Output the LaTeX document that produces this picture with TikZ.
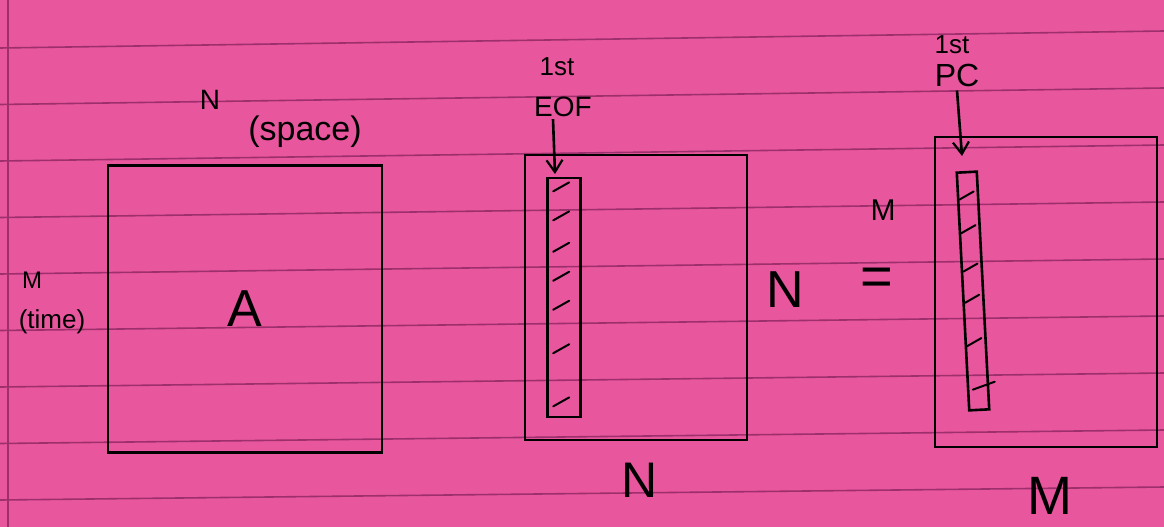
\documentclass[tikz,border=0pt]{standalone}
\usepackage{fontspec}
\setmainfont{Liberation Sans}
\usetikzlibrary{arrows.meta,calc}
\definecolor{paper}{HTML}{E8579E}
\definecolor{ruling}{HTML}{9C2F6C}
\begin{document}
\begin{tikzpicture}[x=1pt,y=-1pt,
  ink/.style={draw=black, line width=2.6pt},
  box/.style={ink, rectangle, inner sep=0pt},
  lbl/.style={inner sep=0pt, text=black},
  hatch/.style={draw=black, line width=2pt, line cap=round},
  arr/.style={ink, -{Straight Barb[length=12pt,width=16pt,line width=2.2pt]}}]
\fill[paper] (0,0) rectangle (1164,527);
\useasboundingbox (0,0) rectangle (1164,527);
\foreach \i in {0,...,8}
  \draw[ruling, line width=1.6pt] (0,{48+56.5*\i}) -- (1164,{31+57*\i});
\draw[ruling, line width=1.6pt] (8,0) -- (8,527);

% left matrix A
\node[box, minimum width=274pt, minimum height=287pt, font=\fontsize{52}{52}\selectfont] (A) at (245,309) {A};
\node[lbl, font=\fontsize{28}{28}\selectfont] (Ntop) at (210,100) {N};
\node[lbl, font=\fontsize{34}{34}\selectfont] (space) at (305,132) {(space)};
\node[lbl, font=\fontsize{24}{24}\selectfont] (Mleft) at (32,280) {M};
\node[lbl, font=\fontsize{26}{26}\selectfont] (time) at (52,322) {(time)};

% middle matrix (EOFs)
\node[box, minimum width=222pt, minimum height=285pt] (E) at (636,297.5) {};
\node[box, minimum width=33pt, minimum height=239pt] (s1) at (564,297.5) {};
\foreach \f in {0.04,0.16,0.29,0.41,0.53,0.71,0.93}
  \draw[hatch] ($(s1.north west)!\f!(s1.south west)+(7,5)$) -- ++(16,-9);
\node[lbl, font=\fontsize{26}{26}\selectfont] (first1) at (557,67) {1st};
\node[lbl, font=\fontsize{28}{28}\selectfont] (eof) at (563,107) {EOF};
\coordinate (t1) at (555,174);
\draw[arr] ($(eof.south)+(-10,2)$) -- (t1);
\node[lbl, font=\fontsize{52}{52}\selectfont] (Nright) at (785,290) {N};
\node[lbl, font=\fontsize{50}{50}\selectfont] (Nbot) at (640,480) {N};

% equals
\node[lbl, font=\fontsize{56}{56}\selectfont] (eq) at (877,282) {=};
\node[lbl, font=\fontsize{30}{30}\selectfont] (Msmall) at (883,210) {M};

% right matrix (PCs)
\node[box, minimum width=222pt, minimum height=310pt] (P) at (1046,292) {};
\node[box, minimum width=20pt, minimum height=238pt, rotate=3] (s2) at (973,291) {};
\foreach \f in {0.1,0.24,0.4,0.53,0.71}
  \draw[hatch] ($(s2.north west)!\f!(s2.south west)+(3,4)$) -- ++(14,-8);
\draw[hatch] ($(s2.north west)!0.9!(s2.south west)+(6,2)$) -- ++(22,-8);
\node[lbl, font=\fontsize{26}{26}\selectfont] (first2) at (952,45) {1st};
\node[lbl, font=\fontsize{32}{32}\selectfont] (pc) at (957,75) {PC};
\coordinate (t2) at (962,156);
\draw[arr] ($(pc.south)+(0,4)$) -- (t2);
\node[lbl, font=\fontsize{54}{54}\selectfont] (Mbot) at (1050,496) {M};
\end{tikzpicture}
\end{document}
